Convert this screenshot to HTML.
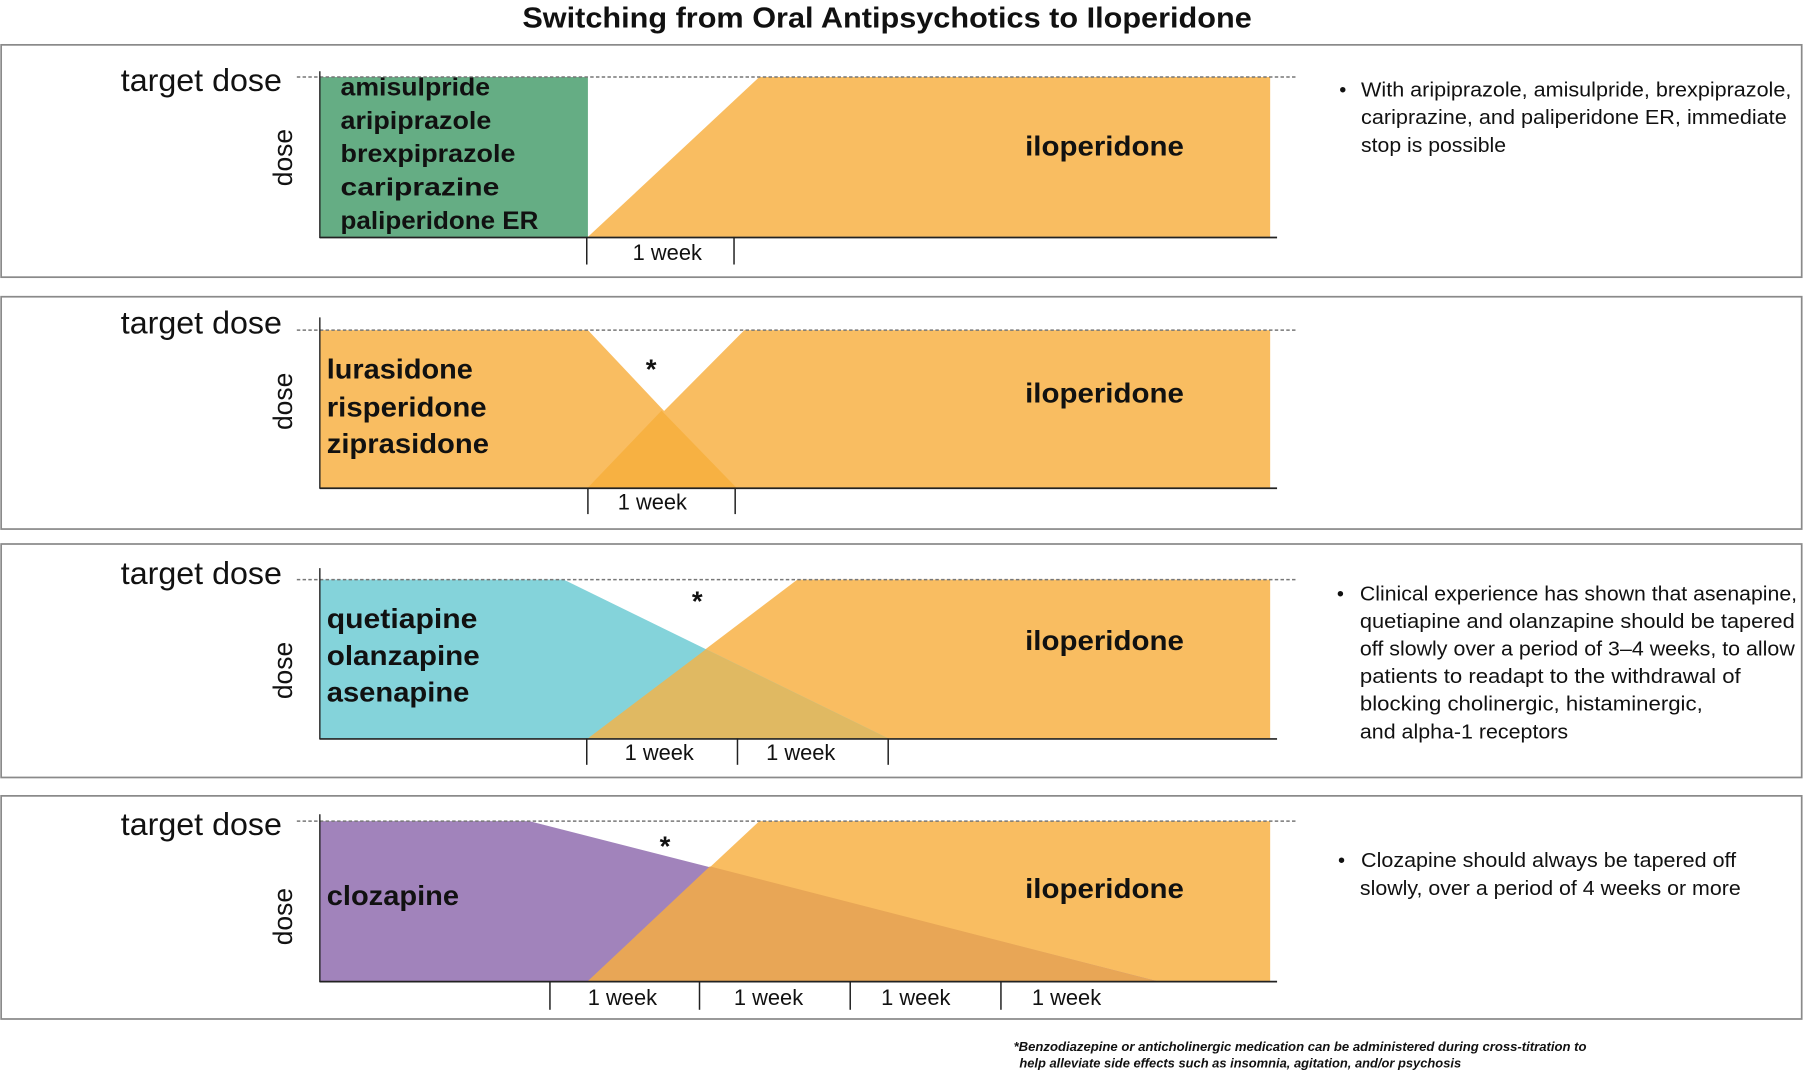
<!DOCTYPE html>
<html><head><meta charset="utf-8"><style>
html,body{margin:0;padding:0;background:#fff;}
svg{display:block;}
text{font-family:"Liberation Sans",sans-serif;fill:#111;}
.td{font-size:27px;}
.dl{font-size:22px;font-weight:bold;}
.il{font-size:24px;font-weight:bold;}
.wk{font-size:19px;}
.rt{font-size:17.5px;}
.ds{font-size:23px;}
</style></head><body>
<svg width="1804" height="1088" viewBox="0 0 1568 946" preserveAspectRatio="none" xmlns="http://www.w3.org/2000/svg">
<text x="771" y="24" text-anchor="middle" style="font-size:25px;font-weight:bold" textLength="634" lengthAdjust="spacingAndGlyphs">Switching from Oral Antipsychotics to Iloperidone</text>
<g fill="none" stroke="#8a8a8a" stroke-width="1.5">
<rect x="1" y="39" width="1565" height="202"/>
<rect x="1" y="258" width="1565" height="202"/>
<rect x="1" y="473" width="1565" height="203"/>
<rect x="1" y="692" width="1565" height="194"/>
</g>

<!-- Panel 1 -->
<rect x="278" y="67" width="233" height="139" fill="#65ad84"/>
<polygon points="511,206 660,67 1104,67 1104,206" fill="#f9bd61"/>
<line x1="258" y1="67" x2="1128" y2="67" stroke="#777" stroke-width="1.3" stroke-dasharray="3,2"/>
<line x1="278" y1="62" x2="278" y2="207" stroke="#222" stroke-width="1.2"/>
<line x1="278" y1="206.5" x2="1110" y2="206.5" stroke="#222" stroke-width="1.5"/>
<line x1="510" y1="206" x2="510" y2="230" stroke="#222" stroke-width="1.3"/>
<line x1="638" y1="206" x2="638" y2="230" stroke="#222" stroke-width="1.3"/>
<text class="wk" x="580" y="226" text-anchor="middle">1 week</text>
<text class="td" x="245" y="79" text-anchor="end" textLength="140" lengthAdjust="spacingAndGlyphs">target dose</text>
<text class="ds" transform="translate(254,137) rotate(-90)" text-anchor="middle">dose</text>
<g class="dl">
<text class="dl" x="296" y="83" textLength="130" lengthAdjust="spacingAndGlyphs">amisulpride</text>
<text class="dl" x="296" y="112" textLength="131" lengthAdjust="spacingAndGlyphs">aripiprazole</text>
<text class="dl" x="296" y="141" textLength="152" lengthAdjust="spacingAndGlyphs">brexpiprazole</text>
<text class="dl" x="296" y="170" textLength="138" lengthAdjust="spacingAndGlyphs">cariprazine</text>
<text class="dl" x="296" y="199" textLength="172" lengthAdjust="spacingAndGlyphs">paliperidone ER</text>
</g>
<text class="il" x="960" y="135" text-anchor="middle" textLength="138" lengthAdjust="spacingAndGlyphs">iloperidone</text>
<text class="rt" x="1164" y="84">•</text>
<text class="rt" x="1183" y="84" textLength="374" lengthAdjust="spacingAndGlyphs">With aripiprazole, amisulpride, brexpiprazole,</text>
<text class="rt" x="1183" y="108" textLength="370" lengthAdjust="spacingAndGlyphs">cariprazine, and paliperidone ER, immediate</text>
<text class="rt" x="1183" y="132" textLength="126" lengthAdjust="spacingAndGlyphs">stop is possible</text>

<!-- Panel 2 -->
<polygon points="278,287 511,287 640,424 278,424" fill="#f9bd61"/>
<polygon points="511,424 647,287 1104,287 1104,424" fill="#f9bd61"/>
<polygon points="511,424 575,357 640,424" fill="#f7b142"/>
<line x1="258" y1="287" x2="1128" y2="287" stroke="#777" stroke-width="1.3" stroke-dasharray="3,2"/>
<line x1="278" y1="276" x2="278" y2="425" stroke="#222" stroke-width="1.2"/>
<line x1="278" y1="424.5" x2="1110" y2="424.5" stroke="#222" stroke-width="1.5"/>
<line x1="511" y1="424" x2="511" y2="447" stroke="#222" stroke-width="1.3"/>
<line x1="639" y1="424" x2="639" y2="447" stroke="#222" stroke-width="1.3"/>
<text class="wk" x="567" y="443" text-anchor="middle">1 week</text>
<text x="566" y="329" text-anchor="middle" style="font-size:24px;font-weight:bold">*</text>
<text class="td" x="245" y="290" text-anchor="end" textLength="140" lengthAdjust="spacingAndGlyphs">target dose</text>
<text class="ds" transform="translate(254,349) rotate(-90)" text-anchor="middle">dose</text>
<text class="il" x="284" y="329" textLength="127" lengthAdjust="spacingAndGlyphs">lurasidone</text>
<text class="il" x="284" y="362" textLength="139" lengthAdjust="spacingAndGlyphs">risperidone</text>
<text class="il" x="284" y="394" textLength="141" lengthAdjust="spacingAndGlyphs">ziprasidone</text>
<text class="il" x="960" y="350" text-anchor="middle" textLength="138" lengthAdjust="spacingAndGlyphs">iloperidone</text>

<!-- Panel 3 -->
<polygon points="511,642 693,504 1104,504 1104,642" fill="#f9bd61"/>
<polygon points="278,504 490,504 772,642 278,642" fill="#84d3da"/>
<polygon points="511,642 613.6,564.5 772,642" fill="#e0b962"/>
<line x1="258" y1="504" x2="1128" y2="504" stroke="#777" stroke-width="1.3" stroke-dasharray="3,2"/>
<line x1="278" y1="494" x2="278" y2="643" stroke="#222" stroke-width="1.2"/>
<line x1="278" y1="642.5" x2="1110" y2="642.5" stroke="#222" stroke-width="1.5"/>
<line x1="510" y1="642" x2="510" y2="665" stroke="#222" stroke-width="1.3"/>
<line x1="641" y1="642" x2="641" y2="665" stroke="#222" stroke-width="1.3"/>
<line x1="772" y1="642" x2="772" y2="665" stroke="#222" stroke-width="1.3"/>
<text class="wk" x="573" y="661" text-anchor="middle">1 week</text>
<text class="wk" x="696" y="661" text-anchor="middle">1 week</text>
<text x="606" y="531" text-anchor="middle" style="font-size:24px;font-weight:bold">*</text>
<text class="td" x="245" y="508" text-anchor="end" textLength="140" lengthAdjust="spacingAndGlyphs">target dose</text>
<text class="ds" transform="translate(254,583) rotate(-90)" text-anchor="middle">dose</text>
<text class="il" x="284" y="546" textLength="131" lengthAdjust="spacingAndGlyphs">quetiapine</text>
<text class="il" x="284" y="578" textLength="133" lengthAdjust="spacingAndGlyphs">olanzapine</text>
<text class="il" x="284" y="610" textLength="124" lengthAdjust="spacingAndGlyphs">asenapine</text>
<text class="il" x="960" y="565" text-anchor="middle" textLength="138" lengthAdjust="spacingAndGlyphs">iloperidone</text>
<text class="rt" x="1162" y="522">•</text>
<text class="rt" x="1182" y="522" textLength="380" lengthAdjust="spacingAndGlyphs">Clinical experience has shown that asenapine,</text>
<text class="rt" x="1182" y="546" textLength="378" lengthAdjust="spacingAndGlyphs">quetiapine and olanzapine should be tapered</text>
<text class="rt" x="1182" y="570" textLength="378" lengthAdjust="spacingAndGlyphs">off slowly over a period of 3–4 weeks, to allow</text>
<text class="rt" x="1182" y="594" textLength="331" lengthAdjust="spacingAndGlyphs">patients to readapt to the withdrawal of</text>
<text class="rt" x="1182" y="618" textLength="298" lengthAdjust="spacingAndGlyphs">blocking cholinergic, histaminergic,</text>
<text class="rt" x="1182" y="642" textLength="181" lengthAdjust="spacingAndGlyphs">and alpha-1 receptors</text>

<!-- Panel 4 -->
<polygon points="511,853 660,714 1104,714 1104,853" fill="#f9bd61"/>
<polygon points="278,714 460,714 1005,853 278,853" fill="#a183bb"/>
<polygon points="511,853 617,753.3 1005,853" fill="#e8a656"/>
<line x1="258" y1="714" x2="1128" y2="714" stroke="#777" stroke-width="1.3" stroke-dasharray="3,2"/>
<line x1="278" y1="708" x2="278" y2="854" stroke="#222" stroke-width="1.2"/>
<line x1="278" y1="853.5" x2="1110" y2="853.5" stroke="#222" stroke-width="1.5"/>
<line x1="478" y1="853" x2="478" y2="878" stroke="#222" stroke-width="1.3"/>
<line x1="608" y1="853" x2="608" y2="878" stroke="#222" stroke-width="1.3"/>
<line x1="739" y1="853" x2="739" y2="878" stroke="#222" stroke-width="1.3"/>
<line x1="870" y1="853" x2="870" y2="878" stroke="#222" stroke-width="1.3"/>
<text class="wk" x="541" y="874" text-anchor="middle">1 week</text>
<text class="wk" x="668" y="874" text-anchor="middle">1 week</text>
<text class="wk" x="796" y="874" text-anchor="middle">1 week</text>
<text class="wk" x="927" y="874" text-anchor="middle">1 week</text>
<text x="578" y="744" text-anchor="middle" style="font-size:24px;font-weight:bold">*</text>
<text class="td" x="245" y="726" text-anchor="end" textLength="140" lengthAdjust="spacingAndGlyphs">target dose</text>
<text class="ds" transform="translate(254,797) rotate(-90)" text-anchor="middle">dose</text>
<text class="il" x="284" y="787" textLength="115" lengthAdjust="spacingAndGlyphs">clozapine</text>
<text class="il" x="960" y="781" text-anchor="middle" textLength="138" lengthAdjust="spacingAndGlyphs">iloperidone</text>
<text class="rt" x="1163" y="754">•</text>
<text class="rt" x="1183" y="754" textLength="326" lengthAdjust="spacingAndGlyphs">Clozapine should always be tapered off</text>
<text class="rt" x="1182" y="778" textLength="331" lengthAdjust="spacingAndGlyphs">slowly, over a period of 4 weeks or more</text>

<text x="881" y="914" style="font-size:11px;font-weight:bold;font-style:italic" textLength="498" lengthAdjust="spacingAndGlyphs">*Benzodiazepine or anticholinergic medication can be administered during cross-titration to</text>
<text x="886" y="928" style="font-size:11px;font-weight:bold;font-style:italic" textLength="384" lengthAdjust="spacingAndGlyphs">help alleviate side effects such as insomnia, agitation, and/or psychosis</text>
</svg>
</body></html>
